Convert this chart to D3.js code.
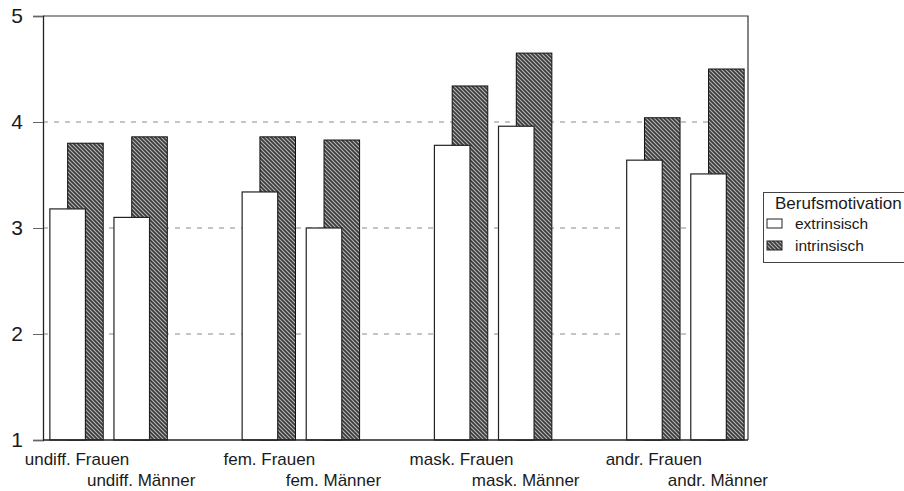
<!DOCTYPE html>
<html>
<head>
<meta charset="utf-8">
<script src="https://cdn.jsdelivr.net/npm/d3@7"></script>
<style>
  html, body { margin: 0; padding: 0; background: #fff; }
  svg { display: block; font-family: "Liberation Sans", Arial, sans-serif; }
</style>
</head>
<body>
<svg id="chart" width="904" height="491"></svg>
<script>
// Groups: women / men in each gender-role type
const categories = [
  "undiff. Frauen", "undiff. Männer",
  "fem. Frauen", "fem. Männer",
  "mask. Frauen", "mask. Männer",
  "andr. Frauen", "andr. Männer"
];
const extrinsisch = [3.18, 3.10, 3.34, 3.00, 3.78, 3.96, 3.64, 3.51];
const intrinsisch = [3.80, 3.86, 3.86, 3.83, 4.34, 4.65, 4.04, 4.50];
const seriesNames = ["extrinsisch", "intrinsisch"];
const legendTitle = "Berufsmotivation";
const yTicks = [1, 2, 3, 4, 5];

const svg = d3.select("#chart");
const plot = { left: 43, top: 16, right: 748, bottom: 440 };

// eleven slots: each pair of groups is followed by an empty slot
const slotOf = i => Math.floor(i / 2) * 3 + (i % 2);
const x = d3.scaleLinear().domain([0, 11]).range([plot.left, plot.right]);
const y = d3.scaleLinear().domain([1, 5]).range([plot.bottom, plot.top]);

const slotW = x(1) - x(0);
const barW = slotW * 0.555;
const step = barW * 0.5;          // 50 % overlap
const groupW = barW + step;

// hatch pattern for the intrinsic series
const defs = svg.append("defs");
const pat = defs.append("pattern")
  .attr("id", "hatch")
  .attr("patternUnits", "userSpaceOnUse")
  .attr("width", 4).attr("height", 4);
pat.append("rect").attr("width", 4).attr("height", 4).attr("fill", "#3c3c3c");
pat.append("path")
  .attr("d", "M-1,-1 L5,5 M-1,3 L1,5 M3,-1 L5,1")
  .attr("stroke", "#b4b4b4").attr("stroke-width", 1.1);

// dashed gridlines
svg.append("g")
  .selectAll("line")
  .data(yTicks.filter(t => t > 1 && t < 5))
  .join("line")
  .attr("x1", plot.left).attr("x2", plot.right)
  .attr("y1", d => y(d)).attr("y2", d => y(d))
  .attr("stroke", "#8a8a8a").attr("stroke-width", 1)
  .attr("stroke-dasharray", "5,6");

// plot frame (top and right)
svg.append("path")
  .attr("d", `M${plot.left},${plot.top}H${plot.right}V${plot.bottom}`)
  .attr("fill", "none").attr("stroke", "#333").attr("stroke-width", 1.2);

const barX = (i, s) => x(slotOf(i)) + slotW / 2 - groupW / 2 + 1.5 + s * step;

// intrinsic bars behind
svg.append("g")
  .selectAll("rect")
  .data(intrinsisch)
  .join("rect")
  .attr("x", (d, i) => barX(i, 1))
  .attr("y", d => y(d))
  .attr("width", barW)
  .attr("height", d => y(1) - y(d))
  .attr("fill", "url(#hatch)")
  .attr("stroke", "#111").attr("stroke-width", 1);

// extrinsic bars in front
svg.append("g")
  .selectAll("rect")
  .data(extrinsisch)
  .join("rect")
  .attr("x", (d, i) => barX(i, 0))
  .attr("y", d => y(d))
  .attr("width", barW)
  .attr("height", d => y(1) - y(d))
  .attr("fill", "#fff")
  .attr("stroke", "#222").attr("stroke-width", 1.2);

// y axis
const yAxis = d3.axisLeft(y).tickValues(yTicks).tickSize(10).tickPadding(10)
  .tickFormat(d3.format("d"));
const gy = svg.append("g").attr("transform", `translate(${plot.left},0)`).call(yAxis);
gy.select(".domain").attr("stroke", "#222").attr("stroke-width", 1.3);
gy.selectAll(".tick line").attr("stroke", "#666");
gy.selectAll(".tick text")
  .attr("font-size", 21).attr("fill", "#1a1a1a")
  .attr("font-family", "Liberation Sans, Arial, sans-serif");

// x axis baseline
svg.append("line")
  .attr("x1", plot.left).attr("x2", plot.right)
  .attr("y1", y(1)).attr("y2", y(1))
  .attr("stroke", "#222").attr("stroke-width", 1.3);

// staggered category labels
svg.append("g")
  .selectAll("text")
  .data(categories)
  .join("text")
  .attr("x", (d, i) => x(slotOf(i)) + slotW / 2 + 2)
  .attr("y", (d, i) => i % 2 === 0 ? 465 : 486)
  .attr("text-anchor", "middle")
  .attr("font-size", 17)
  .attr("fill", "#1a1a1a")
  .text(d => d);

// legend
const lg = svg.append("g");
lg.append("rect")
  .attr("x", 763.5).attr("y", 192.5).attr("width", 150).attr("height", 70)
  .attr("fill", "#fff").attr("stroke", "#444").attr("stroke-width", 1);
lg.append("text")
  .attr("x", 775).attr("y", 209)
  .attr("font-size", 17).attr("fill", "#1a1a1a")
  .text(legendTitle);
const items = lg.selectAll("g.item")
  .data(seriesNames)
  .join("g")
  .attr("class", "item")
  .attr("transform", (d, i) => `translate(0,${i * 22})`);
items.append("rect")
  .attr("x", 767).attr("y", 219)
  .attr("width", 15).attr("height", 9)
  .attr("fill", (d, i) => i === 0 ? "#fff" : "url(#hatch)")
  .attr("stroke", "#222").attr("stroke-width", 1);
items.append("text")
  .attr("x", 795).attr("y", 229)
  .attr("font-size", 15.5).attr("fill", "#1a1a1a")
  .text(d => d);
</script>
</body>
</html>
